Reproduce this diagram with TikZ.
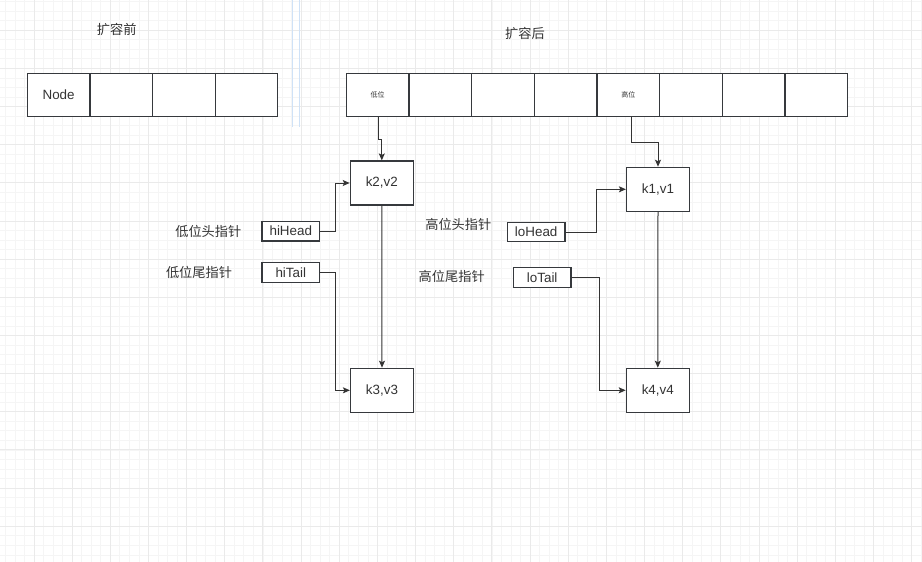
\documentclass[tikz,border=0pt]{standalone}
\usepackage{fontspec}
\setmainfont{Liberation Sans}
\newfontfamily\cjk{Noto Sans CJK SC}
\usetikzlibrary{arrows.meta}
\definecolor{txt}{HTML}{333333}
\definecolor{edge}{HTML}{36393D}
\definecolor{minorgrid}{HTML}{F5F5F5}
\definecolor{majorgrid}{HTML}{EAEAEA}
\definecolor{guide}{HTML}{CFE2F7}
\tikzset{
  cell/.style={draw=edge, line width=1.2pt, fill=white, inner sep=0pt,
    minimum width=62.6pt, minimum height=43.4pt, text=txt,
    font=\fontsize{13.4}{16}\selectfont},
  smallcell/.style={cell, font=\cjk\fontsize{7}{8}\selectfont},
  kv/.style={draw=edge, line width=1.2pt, fill=white, inner sep=0pt,
    minimum width=63pt, minimum height=44pt, text=txt,
    font=\fontsize{13.4}{16}\selectfont},
  ptr/.style={draw=edge, line width=1.2pt, fill=white, inner sep=0pt,
    minimum width=57.5pt, minimum height=19.6pt, text=txt,
    font=\fontsize{13.4}{16}\selectfont},
  lbl/.style={text=txt, inner sep=0pt, font=\cjk\fontsize{13.2}{16}\selectfont},
  conn/.style={draw=txt, line width=1pt,
    -{Stealth[length=7pt,width=6pt,inset=1.5pt]}},
  minorline/.style={draw=minorgrid, line width=0.8pt},
  majorline/.style={draw=majorgrid, line width=1pt},
}
\begin{document}
\begin{tikzpicture}[x=1pt,y=-1pt]
\useasboundingbox (0,0) rectangle (922,562);
\fill[white] (0,0) rectangle (922,562);
% grid
\foreach \i in {0,...,97} \draw[minorline] ({-4.16+9.54*\i},0) -- ({-4.16+9.54*\i},562);
\foreach \i in {0,...,59} \draw[minorline] (0,{1.58+9.54*\i}) -- (922,{1.58+9.54*\i});
\foreach \i in {0,...,23} \draw[majorline] ({34+38.16*\i},0) -- ({34+38.16*\i},562);
\foreach \i in {0,...,14} \draw[majorline] (0,{30.2+38.16*\i}) -- (922,{30.2+38.16*\i});
% guide lines
\draw[guide, line width=0.8pt] (292.7,0) -- (292.7,127);
\draw[guide, line width=0.8pt] (299.7,0) -- (299.7,127);

% titles
\node[lbl] (t1) at (116.7,29) {扩容前};
\node[lbl] (t2) at (525,33) {扩容后};

% before array
\node[cell] (a1) at (58.6,95) {Node};
\node[cell] (a2) at (121.2,95) {};
\node[cell] (a3) at (183.8,95) {};
\node[cell] (a4) at (246.4,95) {};

% after array
\node[smallcell] (b1) at (377.6,95) {低位};
\node[cell] (b2) at (440.3,95) {};
\node[cell] (b3) at (503.0,95) {};
\node[cell] (b4) at (565.7,95) {};
\node[smallcell] (b5) at (628.3,95) {高位};
\node[cell] (b6) at (691.0,95) {};
\node[cell] (b7) at (753.7,95) {};
\node[cell] (b8) at (816.4,95) {};

% kv nodes
\node[kv] (k2) at (381.8,183) {k2,v2};
\node[kv] (k3) at (382.0,390.3) {k3,v3};
\node[kv] (k1) at (658.0,189.3) {k1,v1};
\node[kv] (k4) at (657.8,390.3) {k4,v4};

% pointers
\node[ptr] (hh) at (290.8,231.2) {hiHead};
\node[ptr] (ht) at (290.8,272.4) {hiTail};
\node[ptr] (lh) at (536.2,232.0) {loHead};
\node[ptr, minimum height=20pt] (lt) at (542.2,277.3) {loTail};

% labels
\node[lbl] (l1) at (208.3,231) {低位头指针};
\node[lbl] (l2) at (199,272.3) {低位尾指针};
\node[lbl] (l3) at (458.3,224.3) {高位头指针};
\node[lbl] (l4) at (451.7,276.7) {高位尾指针};

% connectors
\draw[conn] ([xshift=1pt]b1.south) -- ++(0,22.5) -| (k2.north);
\draw[conn] ([xshift=3.4pt]b5.south) -- ++(0,25.6) -| (k1.north);
\draw[conn] (k2.south) -- (k3.north);
\draw[conn] (k1.south) -- (k4.north);
\draw[conn] (hh.east) -- ++(15.7,0) |- (k2.west);
\draw[conn] (ht.east) -- ++(15.7,0) |- (k3.west);
\draw[conn] (lh.east) -- ++(30.7,0) |- (k1.west);
\draw[conn] (lt.east) -- ++(28,0) |- (k4.west);
\end{tikzpicture}
\end{document}
